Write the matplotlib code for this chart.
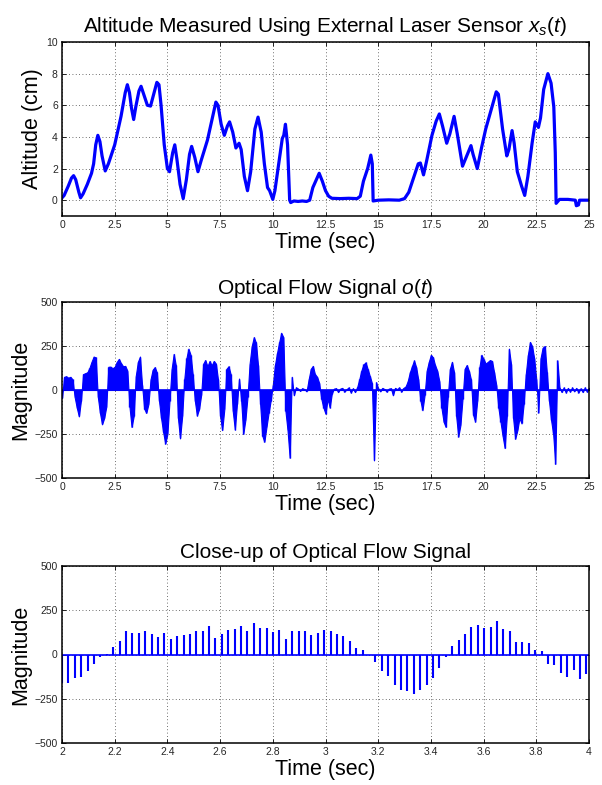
import numpy as np
import matplotlib
matplotlib.use("Agg")
import matplotlib.pyplot as plt

plt.rcParams["font.family"] = ["Liberation Sans", "DejaVu Sans"]
plt.rcParams["mathtext.fontset"] = "custom"
plt.rcParams["mathtext.rm"] = "Liberation Sans"
plt.rcParams["mathtext.it"] = "Liberation Sans:italic"

# altitude from laser sensor, keypoints (sec, cm)
alt_t = [0.0, 0.1, 0.3, 0.45, 0.55, 0.65, 0.8, 0.88, 1.0, 1.2, 1.4, 1.5, 1.6, 1.7, 1.8, 1.9, 2.05,
         2.2, 2.5, 2.8, 3.0, 3.1, 3.2, 3.3, 3.4, 3.5, 3.65, 3.75, 3.9, 4.05, 4.2, 4.35, 4.5, 4.6,
         4.7, 4.85, 5.0, 5.1, 5.25, 5.35, 5.45, 5.6, 5.75, 5.9, 6.05, 6.15, 6.3, 6.45, 6.6, 6.9,
         7.1, 7.3, 7.4, 7.55, 7.7, 7.85, 7.95, 8.1, 8.25, 8.4, 8.5, 8.65, 8.8, 8.95, 9.15, 9.3,
         9.45, 9.6, 9.75, 9.85, 10.0, 10.1, 10.3, 10.45, 10.52, 10.6, 10.7, 10.8, 10.85, 11.0,
         11.2, 11.4, 11.6, 11.75, 11.9, 12.0, 12.2, 12.35, 12.5, 12.65, 12.8, 13.2, 13.6, 14.0,
         14.15, 14.3, 14.5, 14.65, 14.72, 14.76, 15.0, 15.5, 16.0, 16.25, 16.45, 16.7, 16.9,
         17.0, 17.15, 17.3, 17.55, 17.75, 17.9, 18.05, 18.25, 18.4, 18.6, 18.75, 19.0, 19.2,
         19.4, 19.5, 19.7, 19.9, 20.1, 20.4, 20.6, 20.7, 20.9, 21.1, 21.2, 21.35, 21.45, 21.6,
         21.8, 21.95, 22.1, 22.3, 22.45, 22.6, 22.7, 22.85, 23.05, 23.2, 23.33, 23.4, 23.44,
         23.6, 24.0, 24.35, 24.4, 24.5, 24.55, 25.0]
alt_cm = [0.15, 0.3, 0.9, 1.4, 1.55, 1.3, 0.5, 0.15, 0.4, 1.0, 1.7, 2.3, 3.5, 4.1, 3.7, 2.8, 1.85,
          2.3, 3.5, 5.3, 6.8, 7.3, 6.8, 5.8, 5.1, 5.9, 6.9, 7.2, 6.6, 6.0, 5.95, 6.7, 7.45, 7.3,
          6.0, 3.5, 2.0, 1.8, 3.0, 3.5, 2.6, 1.0, 0.1, 1.3, 2.9, 3.4, 2.7, 1.8, 2.5, 3.8,
          5.0, 6.2, 6.0, 4.8, 4.1, 4.7, 4.95, 4.3, 3.3, 3.6, 3.2, 1.5, 0.6, 1.8, 4.5, 5.25,
          4.3, 2.3, 0.8, 0.6, 0.05, 0.6, 2.5, 3.9, 4.1, 4.8, 3.5, 0.0, -0.15, -0.05,
          -0.08, -0.05, -0.08, 0.0, 0.8, 1.1, 1.7, 1.2, 0.6, 0.25, 0.12, 0.1, 0.12, 0.1,
          0.25, 1.2, 2.0, 2.85, 2.3, -0.05, 0.0, 0.02, 0.0, 0.1, 0.5, 1.5, 2.3,
          2.35, 1.6, 2.5, 4.1, 5.0, 5.45, 4.7, 3.6, 4.2, 5.3, 4.2, 2.15, 2.8,
          3.45, 2.9, 2.0, 3.3, 4.5, 5.9, 6.85, 6.7, 4.5, 2.8, 3.2, 4.4, 3.6, 1.8,
          0.9, 0.3, 1.5, 3.6, 4.95, 4.6, 5.2, 7.0, 8.0, 7.4, 5.9, 3.0, -0.2,
          0.05, 0.05, 0.0, -0.35, -0.3, 0.0, 0.0]

# optical flow signal o(t), one value every 0.1 s from 0 to 25 s
flow_vals = [
    -45, 75, 78, 70, 75, 60, -40, -100, -150, -60,
    90, 95, 100, 125, 160, 190, 185, -40, -130, -195,
    -160, -96, 132, 133, 124, 132, 160, 177, 152, 135,
    137, 110, -94, -210, -150, 81, 160, 190, 26, -107,
    -130, -80, 60, 115, 130, 100, -60, -160, -240, -305,
    -250, -60, 120, 205, 140, -160, -275, -150, 60, 180,
    235, 200, 90, -60, -145, -110, -30, 150, 170, 135,
    165, 140, 165, 150, 60, -150, -228, -110, 120, 135,
    90, -120, -225, -80, 65, -60, -250, -170, -40, 150,
    250, 300, 270, 140, -80, -260, -294, -210, -130, -60,
    30, 140, 210, 270, 325, 300, -120, -230, -385, 75,
    -30, 15, 8, -5, 10, 5, -8, 60, 120, 137,
    90, 75, 40, -50, -100, -135, -50, -100, -20, 8,
    10, -12, 8, 12, -10, 5, 15, -15, 10, -12,
    15, 60, 110, 145, 157, 120, 80, 40, -400, 44,
    10, -8, 12, 5, -10, 8, 10, -30, 12, 5,
    15, -10, 12, 20, 50, 100, 135, 168, 130, 60,
    -60, -115, -30, 110, 160, 200, 185, 140, 110, 50,
    -100, -180, -210, -40, 120, 160, 100, -150, -265, -200,
    -50, 120, 142, 110, 60, -140, -180, -60, 130, 200,
    175, 150, 160, 170, 165, 100, 30, -100, -180, -260,
    -330, -150, 235, 150, -160, -277, -230, -160, -190, -80,
    90, 200, 273, 250, 180, 60, -128, 180, 240, 250,
    100, -60, -170, -250, -420, 168, 15, -12, 15, -15,
    12, -10, 15, -8, 12, -15, 10, -12, 15, -10, 12]
flow_t = np.arange(len(flow_vals)) * 0.1

# close-up 2..4 s, samples at ~41.2 Hz
close_fs = 41.2
close_vals = [
    -160, -162, -135, -126, -96, -51, -13, 3, 45, 79,
    132, 124, 124, 133, 113, 100, 124, 86, 103, 111,
    117, 132, 132, 160, 92, 117, 137, 143, 160, 133,
    177, 152, 152, 128, 137, 86, 135, 130, 135, 109,
    120, 137, 130, 113, 107, 75, 34, 26, -3, -41,
    -94, -122, -175, -199, -205, -222, -201, -175, -132, -77,
    -13, 47, 81, 115, 158, 165, 147, 154, 192, 145,
    130, 73, 70, 64, 26, 19, -56, -60, -107, -126,
    -85, -137, -109]
close_t = 2.0 + np.arange(len(close_vals)) / close_fs

t_ticks = [0, 2.5, 5, 7.5, 10, 12.5, 15, 17.5, 20, 22.5, 25]
t_labels = ["0", "2.5", "5", "7.5", "10", "12.5", "15", "17.5", "20", "22.5", "25"]
c_ticks = [2, 2.2, 2.4, 2.6, 2.8, 3, 3.2, 3.4, 3.6, 3.8, 4]
c_labels = ["2", "2.2", "2.4", "2.6", "2.8", "3", "3.2", "3.4", "3.6", "3.8", "4"]
mag_ticks = [-500, -250, 0, 250, 500]

BLUE = "#0000ff"
W, H = 602, 785
fig = plt.figure(figsize=(W / 100, H / 100), dpi=100)

def make_ax(top, bot):
    ax = fig.add_axes([62 / W, 1 - bot / H, 527 / W, (bot - top) / H])
    ax.grid(True, color="0.25", linestyle=(0, (1, 3)), linewidth=0.6)
    ax.tick_params(direction="in", top=True, right=True, length=3, width=0.6,
                   labelsize=7.5, pad=3, labelcolor="0.15")
    for s in ax.spines.values():
        s.set_linewidth(1.1)
    return ax

ax1 = make_ax(42, 216)
ax1.plot(alt_t, alt_cm, color=BLUE, lw=2.3)
ax1.set_xlim(0, 25); ax1.set_ylim(-1, 10)
ax1.set_xticks(t_ticks); ax1.set_xticklabels(t_labels)
ax1.set_yticks([0, 2, 4, 6, 8, 10])
ax1.set_title(r"Altitude Measured Using External Laser Sensor $\mathit{x_s(t)}$", fontsize=15, pad=7)
ax1.set_xlabel("Time (sec)", fontsize=15.5, labelpad=1)
ax1.set_ylabel("Altitude (cm)", fontsize=15.5, labelpad=2)

ax2 = make_ax(302, 478)
ax2.fill_between(flow_t, 0, flow_vals, color=BLUE, lw=0.8)
ax2.vlines(flow_t, 0, flow_vals, color=BLUE, lw=1.0)
ax2.axhline(0, color=BLUE, lw=1.2)
ax2.set_xlim(0, 25); ax2.set_ylim(-500, 500)
ax2.set_xticks(t_ticks); ax2.set_xticklabels(t_labels)
ax2.set_yticks(mag_ticks)
ax2.set_title(r"Optical Flow Signal $\mathit{o(t)}$", fontsize=15, pad=6)
ax2.set_xlabel("Time (sec)", fontsize=15.5, labelpad=1)
ax2.set_ylabel("Magnitude", fontsize=15.5, labelpad=2)

ax3 = make_ax(566, 743)
ax3.vlines(close_t, 0, close_vals, color=BLUE, lw=1.5)
ax3.axhline(0, color=BLUE, lw=1.2)
ax3.set_xlim(2, 4); ax3.set_ylim(-500, 500)
ax3.set_xticks(c_ticks); ax3.set_xticklabels(c_labels)
ax3.set_yticks(mag_ticks)
ax3.set_title("Close-up of Optical Flow Signal", fontsize=15, pad=6)
ax3.set_xlabel("Time (sec)", fontsize=15.5, labelpad=1)
ax3.set_ylabel("Magnitude", fontsize=15.5, labelpad=2)

fig.savefig("out.png", dpi=100)
